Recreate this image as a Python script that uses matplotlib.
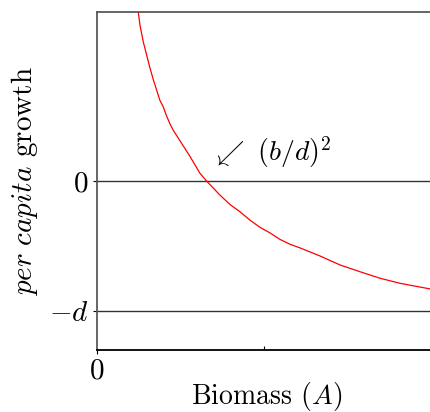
import matplotlib
matplotlib.use("Agg")
from matplotlib import pyplot as plt

plt.rcParams["font.family"] = ["cmr10", "DejaVu Serif"]
plt.rcParams["mathtext.fontset"] = "cm"
plt.rcParams["axes.formatter.use_mathtext"] = True

# curve (d = 1 unit, x axis 0..10)
biomass = [1.24, 1.29, 1.39, 1.49, 1.59, 1.69, 1.79, 1.89, 1.99, 2.09, 2.19, 2.29,
           2.49, 2.79, 3.09, 3.29, 3.69, 3.99, 4.29, 4.59, 4.89, 5.20, 5.50, 5.80,
           6.10, 6.40, 6.70, 7.30, 7.90, 8.50, 9.10, 10.0]
growth = [1.30, 1.20, 1.07, 0.97, 0.87, 0.78, 0.70, 0.62, 0.57, 0.50, 0.44, 0.39,
          0.31, 0.19, 0.06, 0.0, -0.108, -0.18, -0.236, -0.30, -0.356, -0.40, -0.45, -0.487,
          -0.515, -0.546, -0.577, -0.646, -0.698, -0.748, -0.787, -0.83]

levels = [0, -1]
level_labels = ["$0$", "$-d$"]
equilibrium = 3.29

fig = plt.figure(figsize=(4.3, 4.12), dpi=100)
ax = fig.add_axes([97 / 430, 62 / 412, 333 / 430, 338 / 412])

for lv in levels:
    ax.axhline(lv, color="0.2", lw=1.0, zorder=1)
ax.plot(biomass, growth, color="red", lw=0.9, zorder=2)

ax.set_xlim(0, 10)
ax.set_ylim(-1.3, 1.3)

ax.spines["right"].set_visible(False)
for s in ["left", "top"]:
    ax.spines[s].set_color("0.35")
    ax.spines[s].set_linewidth(1.3)
ax.spines["bottom"].set_color("black")
ax.spines["bottom"].set_linewidth(1.3)

ax.set_yticks(levels)
ax.set_yticklabels(level_labels)
ax.set_xticks([0])
ax.set_xticklabels(["$0$"])
ax.set_xticks([5], minor=True)
ax.tick_params(which="major", direction="out", length=3, width=0.8, labelsize=21, pad=3)
ax.tick_params(which="minor", axis="x", direction="in", length=3, width=0.8)

ax.set_xlabel("Biomass $(A)$", fontsize=20)
ax.set_ylabel(r"$\mathit{per\ capita}$ growth", fontsize=21)
ax.xaxis.set_label_coords(0.51, -0.088)
ax.yaxis.set_label_coords(-0.17, 0.5)

ax.text(equilibrium + 0.15, 0.22, r"$\swarrow\ (b/d)^2$", fontsize=20,
        ha="left", va="center")

fig.savefig("out.png", dpi=100)
